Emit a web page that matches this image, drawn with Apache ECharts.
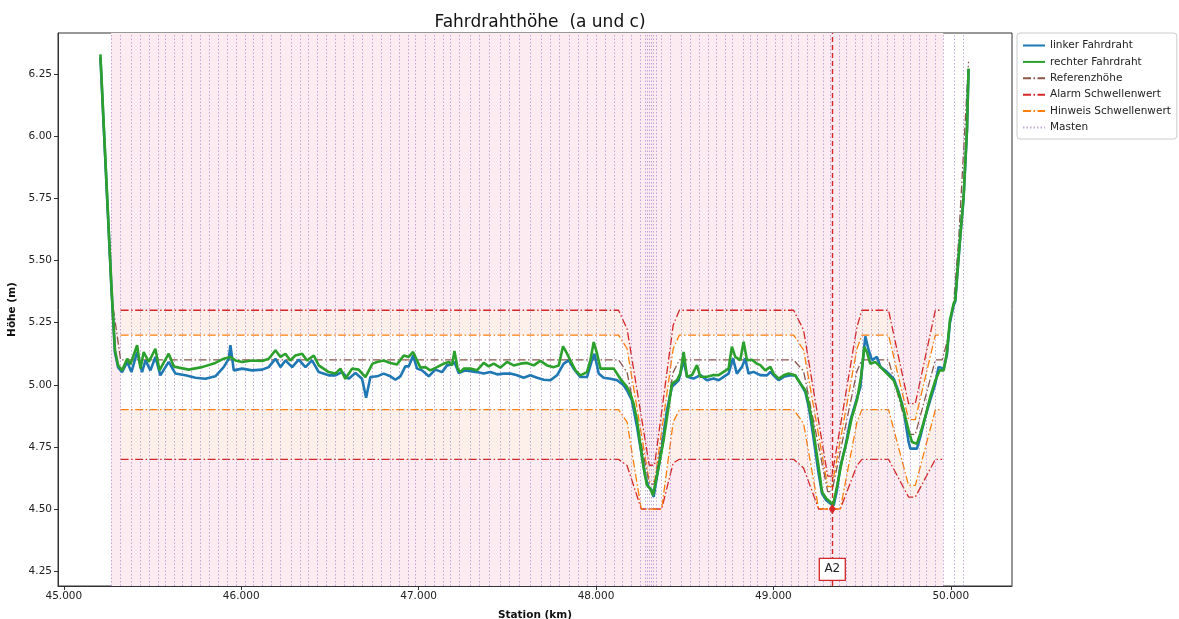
<!DOCTYPE html>
<html>
<head>
<meta charset="utf-8">
<script src="https://cdn.jsdelivr.net/npm/echarts@6/dist/echarts.min.js"></script>
<style>
html, body { margin: 0; padding: 0; background: #ffffff; }
#chart { width: 1179px; height: 619px; }
</style>
</head>
<body>
<div id="chart"></div>
<script>
// Axis ticks
const X_TICKS = [45, 46, 47, 48, 49, 50];
const Y_TICKS = [4.25, 4.5, 4.75, 5.0, 5.25, 5.5, 5.75, 6.0, 6.25];
const X_MIN = 44.967, X_MAX = 50.345;
const Y_MIN = 4.19, Y_MAX = 6.416;

// Measured contact wire height, left wire (station km, height m)
const LEFT_STATION = [45.206,45.268,45.288,45.306,45.328,45.357,45.381,45.413,45.441,45.460,45.488,45.516,45.544,45.591,45.629,45.685,45.742,45.798,45.854,45.901,45.930,45.939,45.958,46.005,46.061,46.118,46.155,46.193,46.221,46.249,46.287,46.324,46.362,46.399,46.437,46.493,46.531,46.568,46.606,46.644,46.681,46.704,46.728,46.766,46.803,46.841,46.869,46.897,46.925,46.944,46.969,46.991,47.019,47.057,47.094,47.132,47.160,47.188,47.202,47.226,47.264,47.292,47.329,47.367,47.404,47.442,47.480,47.517,47.555,47.592,47.630,47.668,47.705,47.743,47.780,47.818,47.846,47.874,47.912,47.949,47.977,47.991,48.015,48.043,48.081,48.119,48.156,48.174,48.202,48.231,48.259,48.278,48.296,48.315,48.325,48.343,48.372,48.400,48.428,48.466,48.494,48.513,48.550,48.588,48.625,48.663,48.691,48.719,48.747,48.772,48.794,48.823,48.841,48.860,48.888,48.926,48.964,48.983,49.001,49.030,49.058,49.095,49.123,49.152,49.180,49.199,49.217,49.236,49.255,49.274,49.298,49.321,49.340,49.358,49.377,49.405,49.434,49.462,49.490,49.518,49.537,49.556,49.584,49.603,49.640,49.678,49.706,49.734,49.762,49.772,49.809,49.828,49.856,49.884,49.913,49.931,49.960,49.978,49.995,50.016,50.025,50.038,50.053,50.072,50.091,50.100];
const LEFT_HEIGHT = [6.32,5.39,5.13,5.07,5.051,5.092,5.051,5.132,5.051,5.098,5.058,5.112,5.038,5.092,5.045,5.038,5.028,5.024,5.034,5.071,5.105,5.159,5.058,5.065,5.058,5.061,5.071,5.105,5.071,5.098,5.071,5.101,5.071,5.098,5.051,5.038,5.038,5.051,5.024,5.047,5.024,4.948,5.031,5.034,5.045,5.034,5.020,5.034,5.074,5.074,5.118,5.065,5.058,5.034,5.061,5.051,5.078,5.082,5.092,5.047,5.058,5.055,5.051,5.045,5.051,5.042,5.045,5.045,5.038,5.028,5.038,5.028,5.020,5.018,5.038,5.085,5.098,5.065,5.031,5.031,5.098,5.125,5.045,5.028,5.024,5.018,4.998,4.978,4.938,4.831,4.710,4.629,4.589,4.576,4.549,4.629,4.750,4.898,4.992,5.018,5.099,5.032,5.025,5.039,5.018,5.025,5.018,5.032,5.045,5.106,5.045,5.072,5.106,5.045,5.052,5.039,5.038,5.052,5.038,5.018,5.032,5.038,5.038,5.005,4.971,4.911,4.830,4.736,4.642,4.562,4.535,4.522,4.515,4.575,4.669,4.750,4.857,4.924,4.991,5.195,5.139,5.099,5.112,5.072,5.052,5.025,4.971,4.898,4.770,4.743,4.743,4.790,4.871,4.938,5.005,5.072,5.065,5.12,5.25,5.32,5.335,5.455,5.59,5.75,6.02,6.27];

// Measured contact wire height, right wire
const RIGHT_STATION = [45.206,45.268,45.288,45.306,45.328,45.357,45.375,45.413,45.432,45.450,45.479,45.516,45.539,45.591,45.620,45.648,45.704,45.779,45.854,45.901,45.939,45.967,46.005,46.061,46.118,46.155,46.193,46.221,46.249,46.277,46.305,46.343,46.371,46.409,46.437,46.493,46.531,46.559,46.587,46.625,46.662,46.700,46.740,46.766,46.803,46.841,46.878,46.916,46.944,46.969,46.991,47.010,47.038,47.066,47.104,47.141,47.170,47.188,47.202,47.220,47.235,47.254,47.292,47.329,47.367,47.395,47.423,47.461,47.498,47.536,47.574,47.611,47.649,47.686,47.724,47.761,47.790,47.814,47.837,47.855,47.884,47.912,47.949,47.968,47.987,48.006,48.025,48.062,48.100,48.137,48.174,48.193,48.212,48.231,48.249,48.268,48.287,48.306,48.321,48.334,48.353,48.381,48.409,48.428,48.456,48.475,48.494,48.513,48.541,48.569,48.588,48.625,48.663,48.691,48.719,48.747,48.766,48.785,48.813,48.832,48.851,48.879,48.907,48.926,48.954,48.983,49.001,49.030,49.058,49.086,49.123,49.152,49.180,49.199,49.217,49.236,49.255,49.274,49.298,49.321,49.336,49.358,49.387,49.415,49.443,49.471,49.494,49.512,49.527,49.546,49.574,49.603,49.640,49.678,49.706,49.734,49.762,49.781,49.809,49.828,49.856,49.884,49.913,49.937,49.960,49.978,49.995,50.016,50.025,50.038,50.053,50.072,50.091,50.100];
const RIGHT_HEIGHT = [6.33,5.40,5.14,5.078,5.058,5.105,5.082,5.159,5.065,5.132,5.092,5.145,5.058,5.125,5.074,5.069,5.061,5.071,5.088,5.105,5.112,5.098,5.092,5.098,5.096,5.105,5.139,5.112,5.125,5.098,5.118,5.125,5.098,5.118,5.078,5.051,5.045,5.065,5.024,5.065,5.061,5.031,5.085,5.092,5.098,5.088,5.082,5.118,5.112,5.132,5.098,5.069,5.071,5.058,5.071,5.085,5.092,5.078,5.136,5.065,5.051,5.065,5.065,5.058,5.088,5.074,5.085,5.069,5.092,5.078,5.085,5.088,5.078,5.096,5.078,5.071,5.078,5.155,5.125,5.098,5.058,5.038,5.051,5.098,5.172,5.125,5.065,5.065,5.065,5.024,4.992,4.965,4.924,4.857,4.763,4.669,4.596,4.582,4.555,4.602,4.669,4.777,4.911,5.005,5.018,5.045,5.132,5.032,5.039,5.079,5.032,5.032,5.039,5.039,5.052,5.065,5.153,5.112,5.099,5.173,5.099,5.101,5.085,5.079,5.058,5.072,5.045,5.025,5.038,5.045,5.038,5.005,4.978,4.924,4.857,4.763,4.669,4.569,4.542,4.528,4.515,4.589,4.696,4.777,4.871,4.938,5.032,5.152,5.132,5.085,5.092,5.072,5.045,5.018,4.965,4.898,4.817,4.770,4.763,4.803,4.871,4.951,5.018,5.058,5.058,5.13,5.26,5.327,5.340,5.461,5.595,5.756,6.025,6.273];

// Design (reference) height
const REF_STATION = [45.206,45.268,45.32,48.127,48.175,48.300,48.330,48.435,48.470,49.114,49.170,49.306,49.330,49.471,49.499,49.649,49.762,49.800,49.913,49.951,49.978,50.016,50.044,50.100];
const REF_HEIGHT  = [6.30,5.36,5.10,5.10,5.05,4.60,4.60,5.05,5.10,5.10,5.055,4.57,4.57,5.055,5.10,5.10,4.80,4.80,5.10,5.10,5.17,5.33,5.58,6.30];

// Threshold curves, sampled on a shared station grid
const THR_STATION   = [45.32,48.127,48.175,48.255,48.300,48.330,48.370,48.435,48.470,49.114,49.170,49.255,49.306,49.330,49.377,49.471,49.499,49.649,49.762,49.800,49.913,49.951];
const ALARM_UPPER   = [5.30,5.30,5.225,4.874,4.676,4.676,4.891,5.24,5.30,5.30,5.22,4.853,4.632,4.632,4.832,5.233,5.30,5.30,4.924,4.924,5.30,5.30];
const HINT_UPPER    = [5.20,5.20,5.145,4.803,4.61,4.61,4.814,5.145,5.20,5.20,5.14,4.796,4.59,4.59,4.775,5.145,5.20,5.20,4.86,4.86,5.20,5.20];
const HINT_LOWER    = [4.90,4.90,4.85,4.50,4.50,4.50,4.50,4.85,4.90,4.90,4.845,4.50,4.50,4.50,4.50,4.85,4.90,4.90,4.595,4.595,4.90,4.90];
const ALARM_LOWER   = [4.70,4.70,4.675,4.50,4.50,4.50,4.50,4.685,4.70,4.70,4.665,4.50,4.50,4.50,4.50,4.675,4.70,4.70,4.548,4.548,4.70,4.70];

// Mast positions (km)
const MAST_STATION = [45.266,45.324,45.379,45.433,45.484,45.534,45.572,45.623,45.672,45.723,45.765,45.816,45.867,45.916,45.967,46.017,46.074,46.123,46.174,46.224,46.277,46.326,46.378,46.433,46.484,46.530,46.581,46.634,46.684,46.737,46.788,46.835,46.886,46.935,46.985,47.038,47.089,47.138,47.184,47.226,47.286,47.344,47.400,47.457,47.513,47.574,47.630,47.686,47.740,47.793,47.847,47.900,47.951,48.002,48.052,48.103,48.154,48.205,48.250,48.279,48.290,48.301,48.312,48.324,48.335,48.374,48.425,48.476,48.527,48.578,48.628,48.679,48.730,48.775,48.826,48.871,48.915,48.960,49.005,49.050,49.096,49.141,49.186,49.231,49.276,49.321,49.366,49.411,49.456,49.501,49.546,49.591,49.636,49.681,49.726,49.771,49.816,49.862,49.907,49.957,50.019,50.070];

// Section span and alarm marker
const SPAN = [45.266, 49.957];
const ALARM_POINT = { name: 'A2', station: 49.332, height: 4.50, labelHeight: 4.257 };

const FONT = 'DejaVu Sans, Liberation Sans, sans-serif';
const DASH_DOT = [8, 2.5, 1.5, 2.5];
const C_LEFT = '#1f77b4', C_RIGHT = '#2ca02c', C_REF = '#8c564b',
      C_ALARM = '#d62728', C_HINT = '#ff7f0e', C_MAST = 'rgba(148,103,189,0.55)';

const zip = (xs, ys) => xs.map((x, i) => [x, ys[i]]);

function bandSeries(upper, lower, color, z) {
  return {
    type: 'custom', silent: true, z: z, clip: true,
    data: [[THR_STATION[0], upper[0]]],
    renderItem: function (params, api) {
      const pts = [];
      for (let i = 0; i < THR_STATION.length; i++) pts.push(api.coord([THR_STATION[i], upper[i]]));
      for (let i = THR_STATION.length - 1; i >= 0; i--) pts.push(api.coord([THR_STATION[i], lower[i]]));
      return { type: 'polygon', shape: { points: pts }, style: { fill: color } };
    }
  };
}

function thresholdSeries(name, ys, color) {
  return {
    name: name, type: 'line', z: 4, silent: true,
    data: zip(THR_STATION, ys), showSymbol: false, symbol: 'none',
    lineStyle: { color: color, width: 1.3, type: DASH_DOT }, itemStyle: { color: color }
  };
}

const chart = echarts.init(document.getElementById('chart'), null, { renderer: 'canvas' });

chart.setOption({
  animation: false,
  backgroundColor: '#ffffff',
  title: {
    text: 'Fahrdrahthöhe  (a und c)',
    left: 535, top: 9, textAlign: 'center',
    textStyle: { fontFamily: FONT, fontSize: 17, fontWeight: 'normal', color: '#111' }
  },
  grid: {
    left: 58, right: 167, top: 33, bottom: 33, outerBoundsMode: 'none', containLabel: false,
    show: true, borderColor: '#333', borderWidth: 1
  },
  legend: {
    left: 1017, top: 33, orient: 'vertical',
    padding: [7, 6, 6, 5], itemGap: 5.4, itemWidth: 22, itemHeight: 11,
    backgroundColor: '#ffffff', borderColor: '#cccccc', borderWidth: 1, borderRadius: 3,
    itemStyle: { opacity: 0 },
    textStyle: { fontFamily: FONT, fontSize: 10.5, color: '#222' },
    data: ['linker Fahrdraht', 'rechter Fahrdraht', 'Referenzhöhe', 'Alarm Schwellenwert', 'Hinweis Schwellenwert', 'Masten']
  },
  xAxis: {
    type: 'value', min: X_MIN, max: X_MAX,
    name: 'Station (km)', nameLocation: 'middle', nameGap: 24,
    nameTextStyle: { fontFamily: FONT, fontSize: 10.5, fontWeight: 'bold', color: '#111' },
    axisLine: { show: true, onZero: false, lineStyle: { color: '#333' } },
    axisTick: { show: true, customValues: X_TICKS, length: 4, inside: false, lineStyle: { color: '#333' } },
    axisLabel: { customValues: X_TICKS, formatter: v => v.toFixed(3), fontFamily: FONT, fontSize: 10.5, color: '#222', margin: 5 },
    splitLine: { show: false }
  },
  yAxis: {
    type: 'value', min: Y_MIN, max: Y_MAX,
    name: 'Höhe (m)', nameLocation: 'middle', nameGap: 40, nameRotate: 90,
    nameTextStyle: { fontFamily: FONT, fontSize: 10.5, fontWeight: 'bold', color: '#111' },
    axisLine: { show: true, onZero: false, lineStyle: { color: '#333' } },
    axisTick: { show: true, customValues: Y_TICKS, length: 4, inside: false, lineStyle: { color: '#333' } },
    axisLabel: { customValues: Y_TICKS, formatter: v => v.toFixed(2), fontFamily: FONT, fontSize: 10.5, color: '#222', margin: 6 },
    splitLine: { show: false }
  },
  series: [
    // section span
    {
      type: 'custom', silent: true, z: 0, clip: true,
      data: [[SPAN[0], Y_MAX]],
      renderItem: function (params, api) {
        const a = api.coord([SPAN[0], Y_MAX]);
        const b = api.coord([SPAN[1], Y_MIN]);
        return { type: 'rect', shape: { x: a[0], y: a[1], width: b[0] - a[0], height: b[1] - a[1] }, style: { fill: '#fcebf1' } };
      }
    },
    // tolerance bands
    bandSeries(ALARM_UPPER, HINT_UPPER, '#fdf0eb', 1),
    bandSeries(HINT_LOWER, ALARM_LOWER, '#fdf0eb', 1),
    bandSeries(HINT_UPPER, HINT_LOWER, '#ffffff', 1),
    // masts
    {
      name: 'Masten', type: 'line', z: 2, data: [], symbol: 'none', silent: true,
      lineStyle: { color: C_MAST, width: 1, type: [1.5, 2] }, itemStyle: { color: C_MAST },
      markLine: {
        silent: true, symbol: ['none', 'none'], animation: false,
        label: { show: false },
        lineStyle: { color: C_MAST, width: 1, type: [1.5, 2] },
        data: MAST_STATION.map(x => ({ xAxis: x }))
      }
    },
    thresholdSeries('Alarm Schwellenwert', ALARM_UPPER, C_ALARM),
    thresholdSeries('Alarm Schwellenwert', ALARM_LOWER, C_ALARM),
    thresholdSeries('Hinweis Schwellenwert', HINT_UPPER, C_HINT),
    thresholdSeries('Hinweis Schwellenwert', HINT_LOWER, C_HINT),
    {
      name: 'Referenzhöhe', type: 'line', z: 4, silent: true,
      data: zip(REF_STATION, REF_HEIGHT), showSymbol: false, symbol: 'none',
      lineStyle: { color: C_REF, width: 1.3, type: DASH_DOT }, itemStyle: { color: C_REF }
    },
    {
      name: 'linker Fahrdraht', type: 'line', z: 5, silent: true,
      data: zip(LEFT_STATION, LEFT_HEIGHT), showSymbol: false, symbol: 'none',
      lineStyle: { color: C_LEFT, width: 2.6 }, itemStyle: { color: C_LEFT }
    },
    {
      name: 'rechter Fahrdraht', type: 'line', z: 6, silent: true,
      data: zip(RIGHT_STATION, RIGHT_HEIGHT), showSymbol: false, symbol: 'none',
      lineStyle: { color: C_RIGHT, width: 2.6 }, itemStyle: { color: C_RIGHT }
    },
    // alarm location
    {
      type: 'scatter', z: 7, silent: true,
      data: [[ALARM_POINT.station, ALARM_POINT.height]],
      symbol: 'diamond', symbolSize: [7, 10], itemStyle: { color: C_ALARM, opacity: 1 },
      markLine: {
        silent: true, symbol: ['none', 'none'], animation: false,
        label: { show: false },
        lineStyle: { color: C_ALARM, width: 1.4, type: [5, 3] },
        data: [{ xAxis: ALARM_POINT.station }]
      }
    },
    {
      type: 'scatter', z: 8, silent: true,
      data: [[ALARM_POINT.station, ALARM_POINT.labelHeight]],
      symbol: 'rect', symbolSize: [26, 22],
      itemStyle: { color: '#ffffff', borderColor: C_ALARM, borderWidth: 1.2, opacity: 1 },
      label: { show: true, position: 'inside', formatter: ALARM_POINT.name, fontFamily: FONT, fontSize: 12, color: '#222' }
    }
  ]
});
</script>
</body>
</html>
